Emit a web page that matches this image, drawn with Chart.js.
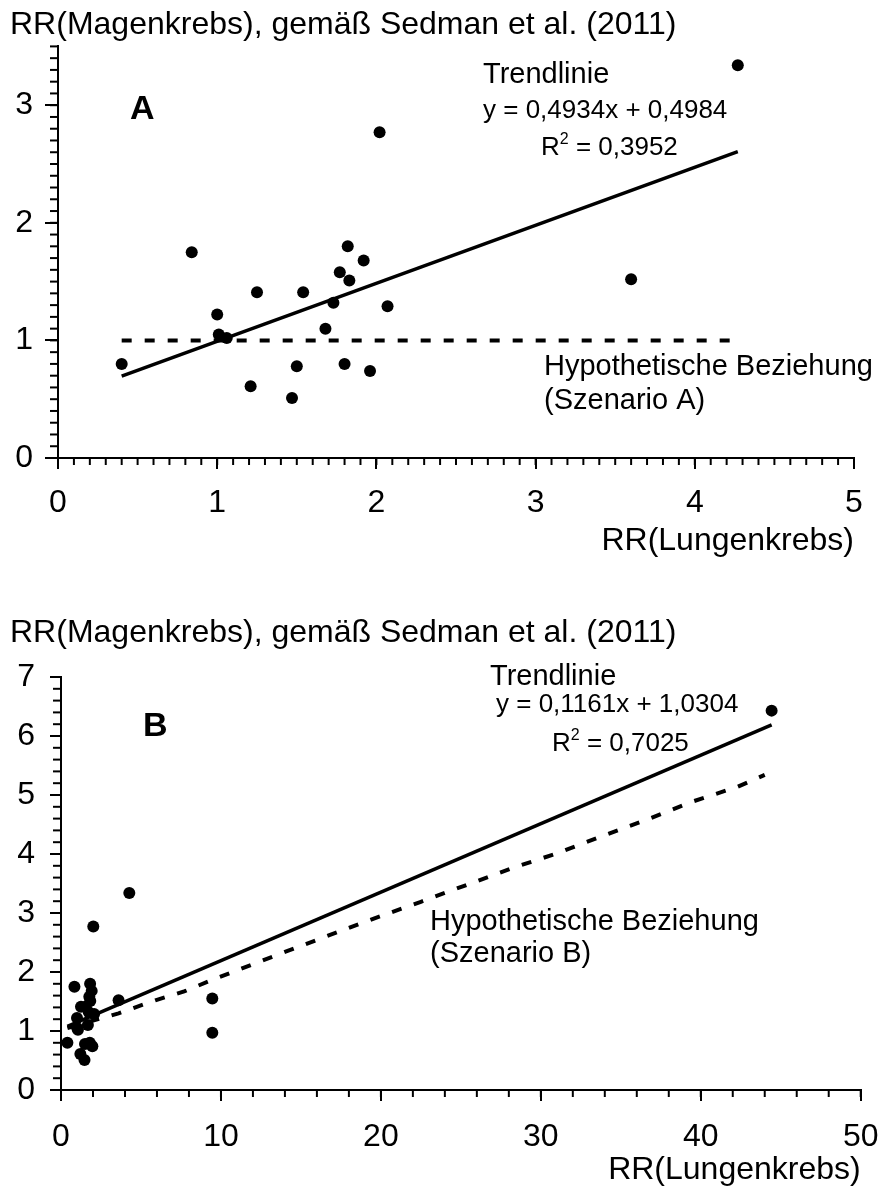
<!DOCTYPE html>
<html>
<head>
<meta charset="utf-8">
<script src="https://cdn.jsdelivr.net/npm/chart.js@4.4.1/dist/chart.umd.min.js"></script>
<style>
  html, body { margin: 0; padding: 0; background: #fff; overflow: hidden; }
  canvas { position: absolute; left: 0; }
</style>
</head>
<body>
<canvas id="chartA" width="895" height="570" style="top:0"></canvas>
<canvas id="chartB" width="895" height="587" style="top:600px"></canvas>
<script>
// RR(Lungenkrebs) und RR(Magenkrebs) je Studie
const lungRR  = [0.40, 0.84, 1.00, 1.01, 1.06, 1.25, 1.21, 1.47, 1.50, 1.54, 1.68,
                 1.73, 1.77, 1.80, 1.83, 1.82, 1.92, 1.96, 2.07, 2.02, 4.27, 3.60];
const magenRR = [0.80, 1.75, 1.22, 1.05, 1.02, 1.41, 0.61, 0.51, 0.78, 1.41, 1.10,
                 1.32, 1.58, 0.80, 1.51, 1.80, 1.68, 0.74, 1.29, 2.77, 3.34, 1.52];
// zusätzliche Studien nur in Teil B
const lungRRextra  = [9.46, 9.46, 44.43];
const magenRRextra = [1.55, 0.97, 6.43];

// Trendlinien (Steigung, Achsenabschnitt)
const trendA = [0.4934, 0.4984];
const trendB = [0.1161, 1.0304];

// hypothetische Beziehung
const hypoAy = 1;
const hypoBx = [0.4, 3.6, 5.9, 7.7, 9.4, 14, 19.6, 22.5, 25.3, 28.2, 31, 33.7, 36.6, 39.5, 42.3, 44];
const hypoBy = [1.05, 1.3, 1.52, 1.67, 1.86, 2.34, 2.91, 3.19, 3.47, 3.76, 4.01, 4.29, 4.58, 4.89, 5.14, 5.34];

const yTitle = 'RR(Magenkrebs), gemäß Sedman et al. (2011)';
const xTitle = 'RR(Lungenkrebs)';

const FONT = '"Liberation Sans", Arial, sans-serif';

function pts(xs, ys) {
  return xs.map((v, i) => ({ x: v, y: ys[i] }));
}
function trendPts(xs, coef) {
  const lo = Math.min(...xs), hi = Math.max(...xs);
  return [lo, hi].map(v => ({ x: v, y: coef[0] * v + coef[1] }));
}

// Nebenstriche und Beschriftungen im Diagramm
const extras = {
  id: 'extras',
  afterDraw(chart, args, o) {
    const ctx = chart.ctx;
    const { x, y } = chart.scales;
    ctx.save();
    ctx.strokeStyle = '#000';
    ctx.lineWidth = 2;
    const nx = Math.round((x.max - x.min) / o.minorX);
    for (let i = 0; i <= nx; i++) {
      const px = x.getPixelForValue(x.min + i * o.minorX);
      ctx.beginPath(); ctx.moveTo(px, x.top); ctx.lineTo(px, x.top + o.lenX); ctx.stroke();
    }
    const ny = Math.round((y.max - y.min) / o.minorY);
    for (let i = 0; i <= ny; i++) {
      const py = y.getPixelForValue(y.min + i * o.minorY);
      ctx.beginPath(); ctx.moveTo(y.right, py); ctx.lineTo(y.right - o.lenY, py); ctx.stroke();
    }
    ctx.fillStyle = '#000';
    ctx.textBaseline = 'alphabetic';
    ctx.textAlign = 'left';
    o.notes.forEach(n => {
      ctx.font = (n.bold ? 'bold ' : '') + n.size + 'px ' + FONT;
      if (n.sup) {
        ctx.fillText(n.text, n.x, n.y);
        let w = ctx.measureText(n.text).width;
        ctx.font = Math.round(n.size * 0.62) + 'px ' + FONT;
        ctx.fillText(n.sup, n.x + w, n.y - n.size * 0.42);
        w += ctx.measureText(n.sup).width;
        ctx.font = n.size + 'px ' + FONT;
        ctx.fillText(n.rest, n.x + w, n.y);
      } else {
        ctx.fillText(n.text, n.x, n.y);
      }
    });
    ctx.restore();
  }
};

function makeChart(id, cfg) {
  const intOnly = s => { s.ticks = s.ticks.filter(t => Number.isInteger(t.value)); };
  return new Chart(document.getElementById(id), {
    type: 'scatter',
    data: {
      datasets: [
        {
          data: cfg.points,
          pointRadius: 6,
          pointBackgroundColor: '#000',
          pointBorderWidth: 0,
          showLine: false
        },
        {
          data: cfg.trend,
          showLine: true,
          borderColor: '#000',
          borderWidth: 3.5,
          pointRadius: 0
        },
        {
          data: cfg.hypo,
          showLine: true,
          borderColor: '#000',
          borderWidth: 4,
          borderDash: [10, 13],
          pointRadius: 0,
          tension: 0
        }
      ]
    },
    options: {
      responsive: false,
      animation: false,
      events: [],
      layout: { padding: cfg.pad },
      scales: {
        x: {
          type: 'linear',
          min: 0,
          max: cfg.xMax,
          afterBuildTicks: intOnly,
          afterFit: s => { s.height = cfg.xH; },
          ticks: { stepSize: cfg.xStep, color: '#000', padding: cfg.xPad, font: { family: FONT, size: 32 } },
          grid: { drawOnChartArea: false, drawTicks: true, tickLength: 11, color: '#000', lineWidth: 2 },
          border: { color: '#000', width: 2 },
          title: {
            display: true, text: xTitle, align: 'end', color: '#000',
            font: { family: FONT, size: 32, lineHeight: 1 },
            padding: { top: 0, bottom: cfg.xTitlePad }
          }
        },
        y: {
          type: 'linear',
          min: 0,
          max: cfg.yMax,
          afterBuildTicks: intOnly,
          afterFit: s => { s.width = cfg.yW; },
          ticks: { stepSize: 1, color: '#000', padding: cfg.yPad, font: { family: FONT, size: 32 } },
          grid: { drawOnChartArea: false, drawTicks: true, tickLength: cfg.yTick, color: '#000', lineWidth: 2 },
          border: { color: '#000', width: 2 }
        }
      },
      plugins: {
        legend: { display: false },
        tooltip: { enabled: false },
        title: {
          display: true, text: yTitle, align: 'start', color: '#000',
          font: { family: FONT, size: 32, weight: 'normal', lineHeight: 1.2 },
          padding: cfg.titlePad
        },
        extras: { minorX: cfg.minorX, minorY: cfg.minorY, lenX: 7, lenY: 8, notes: cfg.notes }
      }
    },
    plugins: [extras]
  });
}

makeChart('chartA', {
  points: pts(lungRR, magenRR),
  trend: trendPts(lungRR, trendA),
  hypo: [{ x: Math.min(...lungRR), y: hypoAy }, { x: Math.max(...lungRR), y: hypoAy }],
  pad: { left: 10, right: 41, top: 0, bottom: 0 },
  titlePad: { top: 6, bottom: 2 },
  xMax: 5, xStep: 1, xH: 112, xPad: 15, xTitlePad: 13,
  yMax: 3.5, yW: 48, yPad: 12, yTick: 13,
  minorX: 0.1, minorY: 0.1,
  notes: [
    { text: 'A', x: 130, y: 119, size: 34, bold: true },
    { text: 'Trendlinie', x: 483, y: 83, size: 29 },
    { text: 'y = 0,4934x + 0,4984', x: 483, y: 118, size: 26 },
    { text: 'R', sup: '2', rest: ' = 0,3952', x: 541, y: 155, size: 26 },
    { text: 'Hypothetische Beziehung', x: 544, y: 375, size: 29 },
    { text: '(Szenario A)', x: 544, y: 409, size: 29 }
  ]
});

const lungAll = lungRR.concat(lungRRextra);
const magenAll = magenRR.concat(magenRRextra);

makeChart('chartB', {
  points: pts(lungAll, magenAll),
  trend: trendPts(lungAll, trendB),
  hypo: pts(hypoBx, hypoBy),
  pad: { left: 10, right: 20, top: 0, bottom: 0 },
  titlePad: { top: 13.8, bottom: 24.8 },
  xMax: 50, xStep: 10, xH: 97, xPad: 16.5, xTitlePad: 1,
  yMax: 7, yW: 51, yPad: 15, yTick: 11,
  minorX: 2, minorY: 0.2,
  notes: [
    { text: 'B', x: 143, y: 136, size: 34, bold: true },
    { text: 'Trendlinie', x: 490, y: 85, size: 29 },
    { text: 'y = 0,1161x + 1,0304', x: 496, y: 112, size: 26 },
    { text: 'R', sup: '2', rest: ' = 0,7025', x: 552, y: 151, size: 26 },
    { text: 'Hypothetische Beziehung', x: 430, y: 330, size: 29 },
    { text: '(Szenario B)', x: 430, y: 362, size: 29 }
  ]
});
</script>
</body>
</html>
